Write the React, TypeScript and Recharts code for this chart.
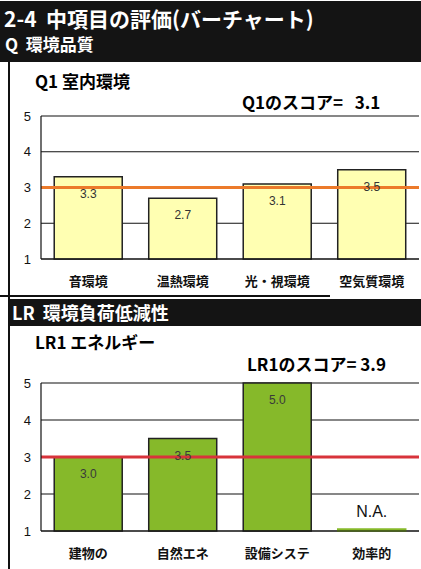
import React from 'react';
import {
  BarChart,
  Bar,
  Cell,
  XAxis,
  YAxis,
  CartesianGrid,
  ReferenceLine,
  LabelList,
} from 'recharts';

const q1Categories = ['音環境', '温熱環境', '光・視環境', '空気質環境'];
const q1Values = [3.3, 2.7, 3.1, 3.5];
const q1Labels = ['3.3', '2.7', '3.1', '3.5'];
const q1Score = 3.1;

const lr1Categories = ['建物の', '自然エネ', '設備システ', '効率的'];
const lr1Values = [3.0, 3.5, 5.0, 1.0];
const lr1Labels = ['3.0', '3.5', '5.0', 'N.A.'];
const lr1Score = 3.9;

const yTicks = [1, 2, 3, 4, 5];
const refLevel = 3;

const q1Data = q1Categories.map((name, i) => ({ name, value: q1Values[i], label: q1Labels[i] }));
const lr1Data = lr1Categories.map((name, i) => ({ name, value: lr1Values[i], label: lr1Labels[i] }));

const font = '"Noto Sans CJK JP", "Noto Sans", sans-serif';
const numFont = 'Liberation Sans, Arial, sans-serif';

const BarLabel = (props: any) => {
  const { x, y, width, value, fill } = props;
  if (value === 'N.A.') {
    return (
      <text x={x + width / 2} y={y - 12} textAnchor="middle" fontSize={16} fill="#111" fontFamily={numFont}>
        {value}
      </text>
    );
  }
  return (
    <text x={x + width / 2} y={y + 21} textAnchor="middle" fontSize={12} fill={fill} fontFamily={numFont}>
      {value}
    </text>
  );
};

function ScoreChart({ data, barColor, lineColor, labelColor, height, minSize }: any) {
  return (
    <BarChart
      width={421}
      height={height}
      data={data}
      margin={{ top: 11, right: 2, left: 0, bottom: 0 }}
      barCategoryGap="14%"
    >
      <CartesianGrid vertical={false} stroke="#111" strokeWidth={1.2} />
      <XAxis
        dataKey="name"
        tickLine={false}
        axisLine={{ stroke: '#111', strokeWidth: 1.2 }}
        tick={{ fill: '#111', fontSize: 13, fontFamily: font, fontWeight: 600 }}
        tickMargin={12}
        height={34}
      />
      <YAxis
        domain={[1, 5]}
        ticks={yTicks}
        tickLine={false}
        tickSize={8}
        axisLine={{ stroke: '#111', strokeWidth: 1.2 }}
        tick={{ fill: '#111', fontSize: 13, fontFamily: numFont }}
        width={41}
      />
      <YAxis
        yAxisId="r"
        orientation="right"
        domain={[1, 5]}
        tick={false}
        tickLine={false}
        axisLine={{ stroke: '#111', strokeWidth: 1.2 }}
        width={0}
      />
      <Bar dataKey="value" fill={barColor} stroke="#222" strokeWidth={1.5}
        minPointSize={minSize} isAnimationActive={false}>
        {data.map((d: any, i: number) => (
          <Cell key={i} stroke={d.label === 'N.A.' ? barColor : '#222'} />
        ))}
        <LabelList dataKey="label" content={(p: any) => <BarLabel {...p} fill={labelColor} />} />
      </Bar>
      <ReferenceLine y={refLevel} stroke={lineColor} strokeWidth={3} />
    </BarChart>
  );
}

export default function App() {
  return (
    <div style={{ position: 'absolute', left: 0, top: 0, width: 421, height: 569, background: '#fff', overflow: 'hidden', fontFamily: font }}>
      {/* header band */}
      <div style={{ position: 'absolute', left: 0, top: 1, width: 421, height: 61, background: '#141414' }} />
      <div style={{ position: 'absolute', left: 4, top: 5, color: '#fff', fontSize: 21, fontWeight: 700, whiteSpace: 'nowrap', lineHeight: '26px' }}>
        2-4&nbsp; 中項目の評価(バーチャート)
      </div>
      <div style={{ position: 'absolute', left: 5, top: 33, color: '#fff', fontSize: 17, fontWeight: 700, whiteSpace: 'nowrap', lineHeight: '22px' }}>
        Q&nbsp; 環境品質
      </div>
      {/* left rule */}
      <div style={{ position: 'absolute', left: 8, top: 62, width: 2, height: 507, background: '#111' }} />

      <div style={{ position: 'absolute', left: 35, top: 70, fontSize: 17, fontWeight: 700, whiteSpace: 'nowrap', lineHeight: '22px' }}>
        Q1 室内環境
      </div>
      <div style={{ position: 'absolute', left: 242, top: 91, fontSize: 17, fontWeight: 700, whiteSpace: 'nowrap', lineHeight: '22px' }}>
        Q1のスコア=&nbsp;&nbsp; {q1Score.toFixed(1)}
      </div>
      <div style={{ position: 'absolute', left: 0, top: 105 }}>
        <ScoreChart data={q1Data} barColor="#ffffb2" lineColor="#ec7a2a" labelColor="#333" height={188} minSize={0} />
      </div>

      {/* second section */}
      <div style={{ position: 'absolute', left: 0, top: 295, width: 330, height: 2, background: '#111' }} />
      <div style={{ position: 'absolute', left: 10, top: 299, width: 411, height: 27, background: '#141414' }} />
      <div style={{ position: 'absolute', left: 12, top: 300, color: '#fff', fontSize: 18, fontWeight: 700, whiteSpace: 'nowrap', lineHeight: '24px' }}>
        LR&nbsp; 環境負荷低減性
      </div>
      <div style={{ position: 'absolute', left: 35, top: 330, fontSize: 17, fontWeight: 700, whiteSpace: 'nowrap', lineHeight: '24px' }}>
        LR1 エネルギー
      </div>
      <div style={{ position: 'absolute', left: 247, top: 352, fontSize: 17, fontWeight: 700, whiteSpace: 'nowrap', lineHeight: '24px' }}>
        LR1のスコア= {lr1Score.toFixed(1)}
      </div>
      <div style={{ position: 'absolute', left: 0, top: 372 }}>
        <ScoreChart data={lr1Data} barColor="#86b92a" lineColor="#d8333b" labelColor="#3a3a3a" height={193} minSize={2} />
      </div>
    </div>
  );
}
